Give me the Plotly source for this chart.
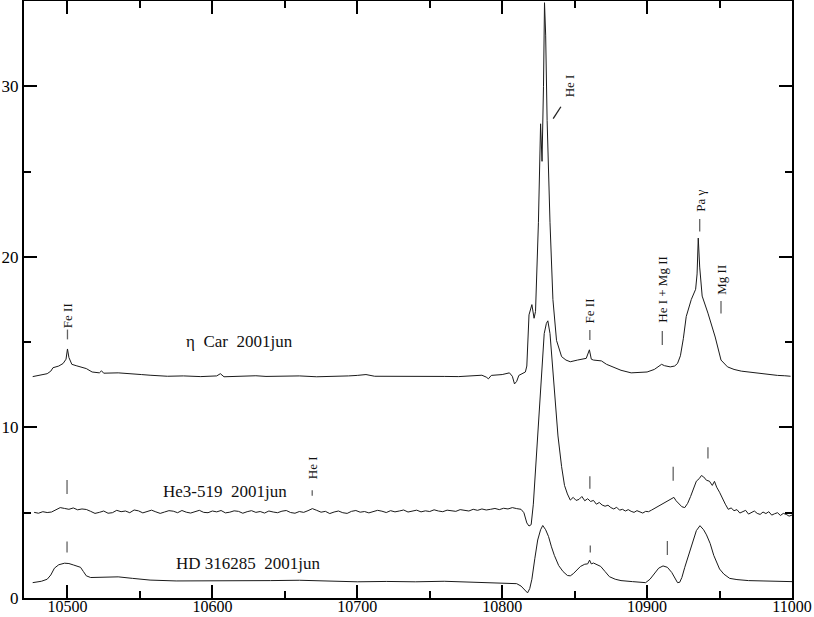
import plotly.graph_objects as go

# ---------------- data ----------------
eta_x = [10476, 10481, 10486, 10488.5, 10490, 10494, 10497, 10499, 10500, 10501, 10503, 10506, 10509, 10513,
         10517, 10522, 10523.5, 10525, 10535, 10545, 10551, 10557, 10563, 10569, 10580, 10592, 10603, 10605.5,
         10608, 10620, 10630, 10637, 10650, 10660, 10672, 10683, 10694, 10700, 10706, 10712, 10729, 10740,
         10750, 10760, 10770, 10779, 10786, 10789, 10790.5, 10792.5, 10800, 10805, 10807, 10808.5, 10810,
         10811.5, 10814, 10816, 10817, 10818.5, 10820.5, 10822, 10823, 10825, 10826.5, 10827.5, 10828.5,
         10829.2, 10830, 10831, 10833, 10835, 10837.5, 10841, 10844, 10847, 10852, 10855, 10858, 10860.2,
         10861.5, 10863, 10868.5, 10872, 10876, 10882, 10889, 10895, 10900, 10905, 10910, 10912, 10916,
         10919, 10921, 10923, 10925, 10927, 10930.5, 10933.5, 10934.5, 10935.3, 10936.3, 10938, 10942,
         10947, 10951, 10955.5, 10960, 10965, 10970, 10975, 10981, 10986, 10990, 10995, 10999]
eta_y = [12.98, 13.05, 13.15, 13.3, 13.5, 13.6, 13.75, 14.0, 14.6, 14.1, 13.7, 13.62, 13.55, 13.45,
         13.25, 13.2, 13.32, 13.18, 13.2, 13.16, 13.1, 13.06, 13.03, 13.0, 13.02, 12.98, 13.02, 13.15,
         12.97, 13.0, 13.03, 12.99, 13.01, 13.02, 12.97, 12.98, 13.02, 13.05, 13.1, 13.0, 13.0, 13.03,
         13.02, 12.99, 12.98, 13.03, 13.06, 12.95, 12.85, 13.05, 13.1, 13.2, 13.0, 12.55, 12.7,
         13.05, 13.15, 13.25, 13.6, 16.6, 17.2, 16.4, 16.8, 22.0, 27.8, 25.6, 30.0,
         34.9, 33.0, 28.0, 22.0, 17.5, 15.1, 14.15, 13.95, 13.85, 13.95, 13.98, 14.05, 14.55,
         14.0, 13.95, 13.9, 13.7, 13.55, 13.35, 13.2, 13.22, 13.25, 13.4, 13.7, 13.62, 13.55,
         13.6, 13.75, 14.2, 15.2, 16.5, 17.5, 18.1, 19.0, 21.1, 19.4, 17.7, 16.7,
         15.3, 13.95, 13.55, 13.4, 13.3, 13.25, 13.18, 13.12, 13.1, 13.05, 13.03, 13.0]

he3_x = [10477, 10480, 10483, 10486, 10489, 10492, 10495, 10498, 10501, 10504, 10507, 10510, 10513, 10516,
         10519, 10522, 10525, 10528, 10531, 10534, 10537, 10540, 10543, 10546, 10549, 10552, 10555, 10558,
         10561, 10564, 10567, 10570, 10573, 10576, 10579, 10582, 10585, 10588, 10591, 10594, 10597, 10600,
         10603, 10606, 10609, 10612, 10615, 10618, 10621, 10624, 10627, 10630, 10633, 10636, 10639, 10642,
         10645, 10648, 10651, 10654, 10657, 10660, 10663, 10666, 10669, 10672, 10675, 10678, 10681, 10684,
         10687, 10690, 10693, 10696, 10699, 10702, 10705, 10708, 10711, 10714, 10717, 10720, 10723, 10726,
         10729, 10732, 10735, 10738, 10741, 10744, 10747, 10750, 10753, 10756, 10759, 10762, 10765, 10768,
         10771, 10774, 10777, 10780, 10783, 10786, 10789, 10792, 10795, 10798, 10801, 10804, 10807, 10810,
         10813, 10815, 10817, 10818.5, 10820, 10821.5, 10823, 10825, 10827, 10829, 10830.5, 10831.5, 10833,
         10835, 10836.5, 10838.5, 10841, 10843, 10845, 10847, 10849, 10851, 10853, 10855, 10857, 10859,
         10861, 10863, 10865, 10867, 10869, 10871, 10873, 10875, 10877, 10879, 10881, 10883, 10885, 10887,
         10889, 10891, 10893, 10895, 10897, 10899, 10901, 10903, 10905, 10907, 10909, 10911, 10913, 10915,
         10917, 10918.5, 10920, 10922, 10924, 10926, 10928, 10930, 10932, 10934, 10936, 10937.5, 10939,
         10941, 10943, 10945, 10946.5, 10948, 10950, 10952, 10954, 10956, 10958, 10960, 10962, 10964,
         10966, 10968, 10970, 10972, 10974, 10976, 10978, 10980, 10982, 10984, 10986, 10988, 10990, 10992,
         10994, 10996, 10998, 11000]
he3_y = [5.02, 4.97, 5.06, 5.01, 5.04, 5.18, 5.3, 5.25, 5.2, 5.28, 5.17, 5.22, 5.19, 5.08,
         4.96, 5.02, 5.1, 4.97, 5.0, 5.14, 5.06, 5.1, 5.0, 5.16, 5.11, 4.99, 5.07, 5.15,
         5.05, 4.96, 5.04, 5.12, 5.09, 5.0, 5.13, 5.03, 4.98, 5.08, 5.14, 5.02, 5.0, 5.1,
         5.05, 5.13, 4.99, 5.03, 5.11, 5.08, 4.97, 5.06, 5.12, 5.02, 5.07, 4.98, 5.1, 5.04,
         5.0, 5.09, 5.13, 5.01, 4.97, 5.07, 5.02, 5.12, 5.24, 5.14, 5.03, 5.08, 4.95, 5.04,
         5.1, 5.0, 4.96, 5.08, 5.13, 5.03, 5.07, 4.99, 5.06, 5.14, 5.09, 5.01, 5.12, 5.05,
         5.1, 5.16, 5.04, 5.09, 5.15, 5.05, 5.11, 5.07, 5.17, 5.1, 5.06, 5.15, 5.12, 5.08,
         5.18, 5.13, 5.1, 5.2, 5.14, 5.22, 5.16, 5.2, 5.25, 5.18, 5.26, 5.22, 5.3, 5.24,
         5.2, 5.0, 4.4, 4.22, 4.3, 5.5, 7.5, 10.6, 13.5, 15.5, 16.1, 16.25, 15.5,
         13.5, 11.6, 9.5, 7.7, 6.6, 6.1, 5.74, 5.9, 5.72, 5.78, 5.95, 5.7, 5.82,
         5.66, 5.72, 5.5, 5.6, 5.45, 5.38, 5.44, 5.3, 5.22, 5.32, 5.15, 5.2, 5.1, 5.18,
         5.08, 5.02, 5.12, 5.04, 4.98, 5.08, 5.06, 5.15, 5.25, 5.35, 5.45, 5.55, 5.6, 5.7,
         5.85, 5.9, 5.7, 5.5, 5.35, 5.3, 5.55, 5.95, 6.45, 6.85, 7.0, 7.18, 7.1,
         6.9, 6.85, 6.6, 6.84, 6.5, 6.2, 5.8, 5.5, 5.2, 5.28, 5.12, 5.18, 4.98,
         5.06, 5.14, 4.92, 5.02, 5.1, 4.96, 4.9, 5.04, 4.95, 5.06, 4.86, 4.94, 5.0, 4.84,
         4.96, 4.9, 4.8, 4.86]

hd_x = [10476, 10482, 10486, 10488.5, 10491, 10494, 10498, 10501, 10504, 10507, 10509, 10511, 10513, 10516,
        10525, 10535, 10545, 10557, 10575, 10600, 10620, 10640, 10660, 10680, 10700, 10720, 10740, 10760,
        10780, 10798, 10810, 10813, 10815.5, 10817.5, 10819, 10820.5, 10822.5, 10824.5, 10826.5, 10828,
        10830, 10832, 10834, 10836, 10839, 10842, 10845, 10847, 10849, 10851, 10854, 10857, 10859, 10860.3,
        10861.5, 10863, 10866, 10868, 10871, 10874, 10878, 10882, 10890, 10899, 10902, 10905, 10908, 10911,
        10914, 10917, 10919, 10921, 10922.5, 10924, 10926, 10929, 10932, 10934, 10936.5, 10939, 10941,
        10943.5, 10946, 10948, 10950, 10953, 10957, 10962, 10970, 10980, 10990, 11000]
hd_y = [0.9, 0.98, 1.1, 1.35, 1.75, 1.95, 2.04, 2.02, 1.94, 1.86, 1.8, 1.55, 1.3, 1.2,
        1.2, 1.24, 1.15, 1.05, 1.0, 1.0, 0.98, 1.02, 1.04, 0.98, 0.95, 0.97, 0.95, 0.98,
        0.93, 0.9, 0.84, 0.7, 0.45, 0.3, 0.55, 1.1, 2.3, 3.4, 4.0, 4.25,
        4.0, 3.6, 3.0, 2.5, 1.9, 1.55, 1.32, 1.3, 1.42, 1.6, 1.85, 1.98, 2.0, 2.22,
        2.0, 2.05, 1.95, 1.85, 1.55, 1.25, 1.1, 1.02, 0.96, 0.9, 1.1, 1.45, 1.75, 1.88,
        1.8, 1.5, 1.2, 0.9, 0.92, 1.2, 1.8, 2.6, 3.5, 3.95, 4.24, 4.0, 3.7,
        3.2, 2.5, 2.1, 1.7, 1.4, 1.15, 1.08, 1.02, 1.0, 0.98, 0.96]

# line-identification dashes: wavelength, height, dash length (px)
mark_x = [10500, 10860.5, 10910.5, 10936.3, 10951,
          10499.7, 10668.9, 10860.5, 10918.0, 10942.0,
          10499.7, 10860.8, 10914.0]
mark_y = [15.45, 15.42, 15.25, 21.85, 17.05,
          6.51, 6.16, 6.77, 7.28, 8.51,
          2.99, 2.87, 2.93]
mark_len = [7, 7, 10, 9, 9,
            10, 4, 9, 10, 8,
            8, 5, 10]

# rotated line labels
line_labels = ["Fe II", "Fe II", "He I + Mg II", "Pa γ", "Mg II", "He I", "He I"]
line_label_x = [10500, 10860.5, 10910.6, 10936.6, 10951.6, 10846.7, 10669.0]
line_label_y = [16.55, 16.85, 18.1, 23.3, 18.65, 30.05, 7.63]

# star labels
star_labels = ["η  Car  2001jun", "He3-519  2001jun", "HD 316285  2001jun"]
star_label_x = [10619.0, 10608.7, 10624.6]
star_label_y = [15.02, 6.25, 2.02]

# slanted pointer for He I
pointer_x = [10835.2, 10840.5]
pointer_y = [28.11, 28.8]

x_ticks = [10500, 10600, 10700, 10800, 10900, 11000]
y_ticks = [0, 10, 20, 30]

# ---------------- figure ----------------
fig = go.Figure()
for xs, ys in [(eta_x, eta_y), (he3_x, he3_y), (hd_x, hd_y)]:
    fig.add_trace(go.Scatter(x=xs, y=ys, mode="lines",
                             line=dict(color="#1a1a1a", width=1), hoverinfo="skip"))

fig.add_trace(go.Scatter(x=mark_x, y=mark_y, mode="markers",
                         marker=dict(symbol="line-ns", size=mark_len,
                                     line=dict(color="#222", width=1.3)),
                         hoverinfo="skip"))
fig.add_trace(go.Scatter(x=pointer_x, y=pointer_y, mode="lines",
                         line=dict(color="#222", width=1.3), hoverinfo="skip"))

for t, x, y in zip(line_labels, line_label_x, line_label_y):
    fig.add_annotation(x=x, y=y, text=t, textangle=-90, showarrow=False,
                       font=dict(family="Liberation Serif", size=13, color="#111"))
for t, x, y in zip(star_labels, star_label_x, star_label_y):
    fig.add_annotation(x=x, y=y, text=t, showarrow=False,
                       font=dict(family="Liberation Serif", size=17, color="#111"))

axis_common = dict(showline=True, linecolor="black", linewidth=2, mirror="ticks",
                   ticks="inside", tickcolor="black", tickwidth=1.5, ticklen=13,
                   showgrid=False, zeroline=False, automargin=False)
fig.update_xaxes(range=[10470, 11000], tickvals=x_ticks, tickformat="d",
                 ticklabelstandoff=-7,
                 tickfont=dict(family="Liberation Serif", size=16, color="black"),
                 minor=dict(dtick=50, tick0=10450, ticks="inside", ticklen=7,
                            tickcolor="black", tickwidth=1.5),
                 **axis_common)
fig.update_yaxes(range=[0, 35], tickvals=y_ticks,
                 tickfont=dict(family="Liberation Serif", size=17, color="black"),
                 minor=dict(dtick=5, tick0=0, ticks="inside", ticklen=7,
                            tickcolor="black", tickwidth=1.5),
                 **axis_common)
fig.update_layout(width=814, height=617, showlegend=False,
                  margin=dict(l=24, r=22, t=1, b=19),
                  plot_bgcolor="white", paper_bgcolor="white")

fig.write_html("out.html", config={"displayModeBar": False},
               post_script="document.body.style.margin='0';document.body.style.overflow='hidden';")
